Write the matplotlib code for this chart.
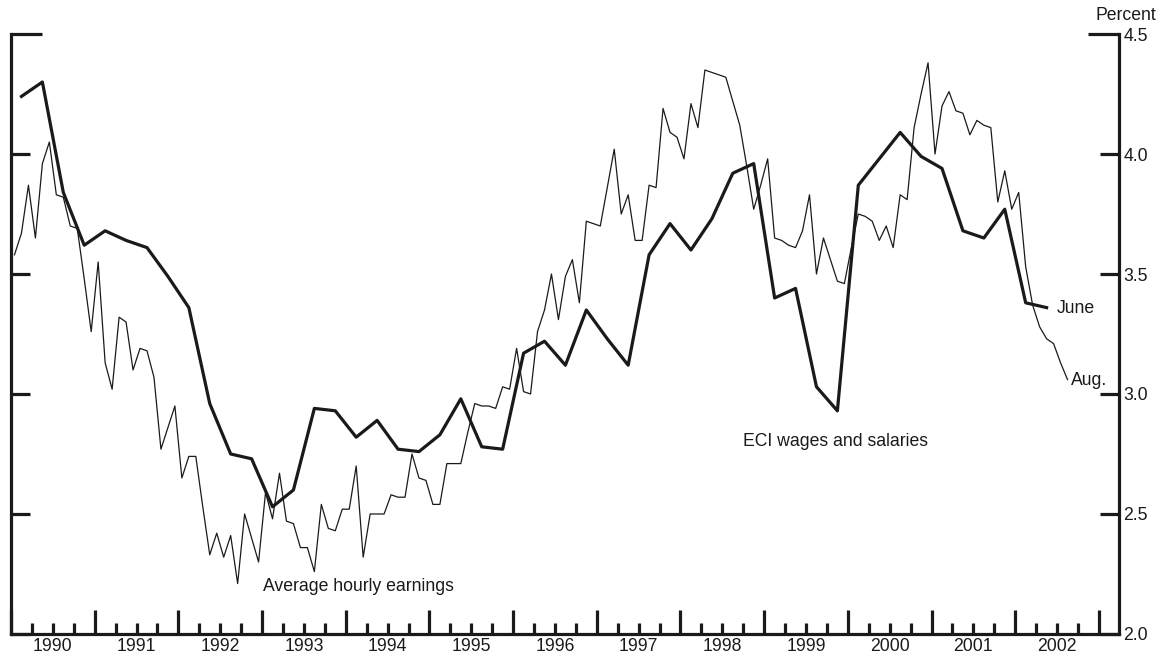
import numpy as np
from matplotlib import pyplot as plt
from matplotlib.ticker import FixedLocator, NullFormatter

plt.rcParams['font.family'] = ['Liberation Sans', 'DejaVu Sans']

# ECI wages and salaries, 12-month change, quarterly 1990Q1 - 2002Q2
eci = [4.24, 4.30, 3.84, 3.62, 3.68, 3.64, 3.61, 3.49, 3.36, 2.96,
       2.75, 2.73, 2.53, 2.60, 2.94, 2.93, 2.82, 2.89, 2.77, 2.76,
       2.83, 2.98, 2.78, 2.77, 3.17, 3.22, 3.12, 3.35, 3.23, 3.12,
       3.58, 3.71, 3.60, 3.73, 3.92, 3.96, 3.40, 3.44, 3.03, 2.93,
       3.87, 3.98, 4.09, 3.99, 3.94, 3.68, 3.65, 3.77, 3.38, 3.36]

# average hourly earnings, 12-month change, monthly Jan 1990 - Aug 2002
ahe = [3.58, 3.67, 3.87, 3.65, 3.96, 4.05, 3.83, 3.82, 3.70, 3.69, 3.48, 3.26,
       3.55, 3.13, 3.02, 3.32, 3.30, 3.10, 3.19, 3.18, 3.07, 2.77, 2.86, 2.95,
       2.65, 2.74, 2.74, 2.53, 2.33, 2.42, 2.32, 2.41, 2.21, 2.50, 2.40, 2.30,
       2.59, 2.48, 2.67, 2.47, 2.46, 2.36, 2.36, 2.26, 2.54, 2.44, 2.43, 2.52,
       2.52, 2.70, 2.32, 2.50, 2.50, 2.50, 2.58, 2.57, 2.57, 2.75, 2.65, 2.64,
       2.54, 2.54, 2.71, 2.71, 2.71, 2.84, 2.96, 2.95, 2.95, 2.94, 3.03, 3.02,
       3.19, 3.01, 3.00, 3.26, 3.35, 3.50, 3.31, 3.49, 3.56, 3.38, 3.72, 3.71,
       3.70, 3.86, 4.02, 3.75, 3.83, 3.64, 3.64, 3.87, 3.86, 4.19, 4.09, 4.07,
       3.98, 4.21, 4.11, 4.35, 4.34, 4.33, 4.32, 4.22, 4.12, 3.95, 3.77, 3.87,
       3.98, 3.65, 3.64, 3.62, 3.61, 3.68, 3.83, 3.50, 3.65, 3.56, 3.47, 3.46,
       3.61, 3.75, 3.74, 3.72, 3.64, 3.70, 3.61, 3.83, 3.81, 4.11, 4.25, 4.38,
       4.00, 4.20, 4.26, 4.18, 4.17, 4.08, 4.14, 4.12, 4.11, 3.80, 3.93, 3.77,
       3.84, 3.53, 3.37, 3.28, 3.23, 3.21, 3.13, 3.06]

years = list(range(1990, 2003))
yticks = [2.0, 2.5, 3.0, 3.5, 4.0]

eci_x = 1990 + (np.arange(len(eci)) + 0.5) / 4
ahe_x = 1990 + (np.arange(len(ahe)) + 0.5) / 12

ink = '#1a1a1a'
fig = plt.figure(figsize=(11.63, 6.58), dpi=100)
ax = fig.add_axes([0.00946, 0.0365, 0.9527, 0.9118])

ax.plot(ahe_x, ahe, color=ink, lw=0.9)
ax.plot(eci_x, eci, color=ink, lw=2.3)

ax.set_xlim(1990, 2003.24)
ax.set_ylim(2.0, 4.5)

ax.spines['top'].set_visible(False)
for s in ['left', 'right', 'bottom']:
    ax.spines[s].set_linewidth(2.3)
    ax.spines[s].set_color(ink)

# x axis: long ticks at year ends, short ticks at quarters, labels mid-year
ax.xaxis.set_major_locator(FixedLocator(years + [2003]))
ax.xaxis.set_minor_locator(FixedLocator([y + q for y in years for q in (0.25, 0.5, 0.75)]))
ax.xaxis.set_major_formatter(NullFormatter())
ax.tick_params(axis='x', which='major', direction='in', length=17, width=2.3, color=ink)
ax.tick_params(axis='x', which='minor', direction='in', length=8, width=2.3, color=ink)
for y in years:
    ax.text(y + 0.5, -0.007, str(y), transform=ax.get_xaxis_transform(),
            ha='center', va='top', fontsize=12.7, color=ink)

# y axis: ticks on both sides, labels on the right, longer cap at 4.5
ax.yaxis.set_major_locator(FixedLocator(yticks))
ax.yaxis.set_minor_locator(FixedLocator([4.5]))
ax.yaxis.set_major_formatter(lambda v, p: '%.1f' % v)
ax.yaxis.set_minor_formatter(lambda v, p: '%.1f' % v)
ax.tick_params(axis='y', which='both', direction='in', left=True, right=True,
               labelleft=False, labelright=True, width=2.3, color=ink,
               labelsize=12.7, labelcolor=ink, pad=3)
ax.tick_params(axis='y', which='major', length=14)
ax.tick_params(axis='y', which='minor', length=22)

ax.text(1.0334, 1.031, 'Percent', transform=ax.transAxes, ha='right', va='center',
        fontsize=12.7, color=ink)

ax.text(1993.01, 2.196, 'Average hourly earnings', ha='left', va='center', fontsize=12.7, color=ink)
ax.text(1998.75, 2.80, 'ECI wages and salaries', ha='left', va='center', fontsize=12.7, color=ink)
ax.text(2002.50, 3.358, 'June', ha='left', va='center', fontsize=12.7, color=ink)
ax.text(2002.666, 3.058, 'Aug.', ha='left', va='center', fontsize=12.7, color=ink)

fig.savefig('out.png', dpi=100)
